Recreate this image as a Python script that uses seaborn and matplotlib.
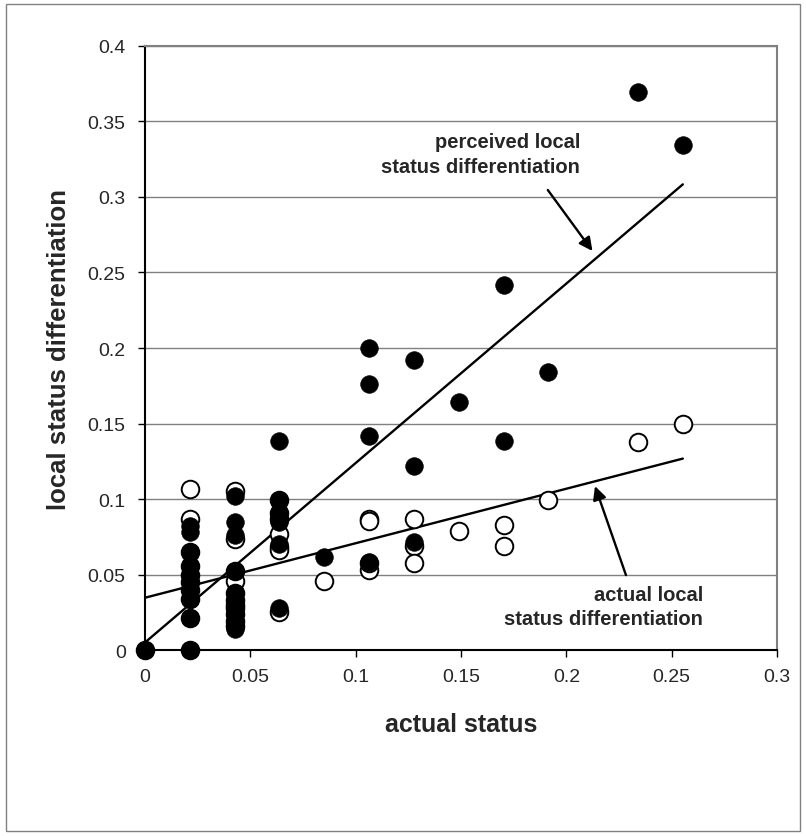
import matplotlib
matplotlib.use("Agg")
import matplotlib.pyplot as plt
from matplotlib.patches import Rectangle
import seaborn as sns
import pandas as pd

# ---- data ----
perceived_x = [0.0,
               0.0213, 0.0213, 0.0213, 0.0213, 0.0213, 0.0213, 0.0213, 0.0213, 0.0213, 0.0213,
               0.0426, 0.0426, 0.0426, 0.0426, 0.0426, 0.0426, 0.0426, 0.0426, 0.0426, 0.0426, 0.0426,
               0.0638, 0.0638, 0.0638, 0.0638, 0.0638, 0.0638, 0.0638,
               0.0851,
               0.1064, 0.1064, 0.1064, 0.1064,
               0.1277, 0.1277, 0.1277,
               0.1489,
               0.1702, 0.1702,
               0.1915,
               0.2340,
               0.2553]
perceived_y = [0.0,
               0.0, 0.021, 0.034, 0.040, 0.045, 0.050, 0.056, 0.065, 0.078, 0.082,
               0.102, 0.085, 0.076, 0.0525, 0.038, 0.033, 0.028, 0.024, 0.019, 0.014, 0.016,
               0.1386, 0.0993, 0.090, 0.087, 0.085, 0.070, 0.028,
               0.062,
               0.200, 0.176, 0.1417, 0.0585,
               0.192, 0.122, 0.0717,
               0.164,
               0.2417, 0.1384,
               0.184,
               0.3695,
               0.3344]

actual_x = [0.0,
            0.0213, 0.0213, 0.0213, 0.0213, 0.0213, 0.0213, 0.0213, 0.0213, 0.0213, 0.0213,
            0.0426, 0.0426, 0.0426, 0.0426, 0.0426, 0.0426, 0.0426, 0.0426, 0.0426, 0.0426, 0.0426,
            0.0638, 0.0638, 0.0638, 0.0638, 0.0638, 0.0638, 0.0638,
            0.0851,
            0.1064, 0.1064, 0.1064, 0.1064,
            0.1277, 0.1277, 0.1277,
            0.1489,
            0.1702, 0.1702,
            0.1915,
            0.2340,
            0.2553]
actual_y = [0.0,
            0.1066, 0.0868, 0.0, 0.021, 0.034, 0.040, 0.045, 0.050, 0.056, 0.065,
            0.1055, 0.0735, 0.046, 0.0525, 0.030, 0.038, 0.033, 0.028, 0.024, 0.019, 0.016,
            0.0768, 0.068, 0.066, 0.025, 0.0993, 0.091, 0.087,
            0.046,
            0.0868, 0.0855, 0.0532, 0.058,
            0.087, 0.069, 0.058,
            0.079,
            0.083, 0.069,
            0.0993,
            0.138,
            0.150]

x_ticks = [0, 0.05, 0.1, 0.15, 0.2, 0.25, 0.3]
x_tick_labels = ["0", "0.05", "0.1", "0.15", "0.2", "0.25", "0.3"]
y_ticks = [0, 0.05, 0.1, 0.15, 0.2, 0.25, 0.3, 0.35, 0.4]
y_tick_labels = ["0", "0.05", "0.1", "0.15", "0.2", "0.25", "0.3", "0.35", "0.4"]

perceived = pd.DataFrame({"x": perceived_x, "y": perceived_y})
actual = pd.DataFrame({"x": actual_x, "y": actual_y})

sns.set_style("white")
plt.rcParams["font.family"] = ["Liberation Sans", "DejaVu Sans"]

fig = plt.figure(figsize=(8.06, 8.37), dpi=100)
ax = fig.add_axes([0.180, 0.222, 0.784, 0.722])

# regression lines
sns.regplot(data=actual, x="x", y="y", ax=ax, ci=None, scatter=False, truncate=True,
            line_kws={"color": "black", "lw": 1.7, "zorder": 2})
sns.regplot(data=perceived, x="x", y="y", ax=ax, ci=None, scatter=False, truncate=True,
            line_kws={"color": "black", "lw": 1.7, "zorder": 2})

# points
sns.scatterplot(data=actual, x="x", y="y", ax=ax, s=160, facecolor="white",
                edgecolor="black", linewidth=1.4, zorder=3, clip_on=False)
sns.scatterplot(data=perceived, x="x", y="y", ax=ax, s=160, color="black",
                edgecolor="black", linewidth=0.5, zorder=4, clip_on=False)

ax.set_xlim(0, 0.3)
ax.set_ylim(0, 0.4)
ax.set_xticks(x_ticks)
ax.set_xticklabels(x_tick_labels)
ax.set_yticks(y_ticks)
ax.set_yticklabels(y_tick_labels)
ax.tick_params(axis="both", which="both", direction="out", length=5, width=1,
               color="black", labelsize=14, left=True, bottom=True)
ax.tick_params(axis="y", pad=9)
ax.tick_params(axis="x", pad=8)

ax.yaxis.grid(True, color="#808080", lw=1)
ax.xaxis.grid(False)
ax.set_axisbelow(True)
for side in ["top", "right"]:
    ax.spines[side].set_color("#808080")
    ax.spines[side].set_linewidth(1.5)
for side in ["left", "bottom"]:
    ax.spines[side].set_color("black")
    ax.spines[side].set_linewidth(1.5)

ax.set_xlabel("actual status", fontsize=18, fontweight="bold", labelpad=19)
ax.set_ylabel("local status differentiation", fontsize=18.5, fontweight="bold", labelpad=12)

# annotations
ax.text(0.2065, 0.3285, "perceived local\nstatus differentiation", ha="right", va="center",
        fontsize=14.5, fontweight="bold", linespacing=1.35)
ax.annotate("", xy=(0.2124, 0.2642), xytext=(0.1912, 0.3046),
            arrowprops=dict(arrowstyle="-|>", color="black", lw=1.7,
                            mutation_scale=20, shrinkA=0, shrinkB=0))
ax.text(0.2648, 0.029, "actual local\nstatus differentiation", ha="right", va="center",
        fontsize=14.5, fontweight="bold", linespacing=1.35)
ax.annotate("", xy=(0.2136, 0.1086), xytext=(0.2283, 0.0497),
            arrowprops=dict(arrowstyle="-|>", color="black", lw=1.7,
                            mutation_scale=20, shrinkA=0, shrinkB=0))

fig.patches.append(Rectangle((6 / 806, 5 / 837), 794 / 806, 827 / 837,
                             transform=fig.transFigure, fill=False,
                             edgecolor="#808080", lw=1))

fig.savefig("out.png", dpi=100)
